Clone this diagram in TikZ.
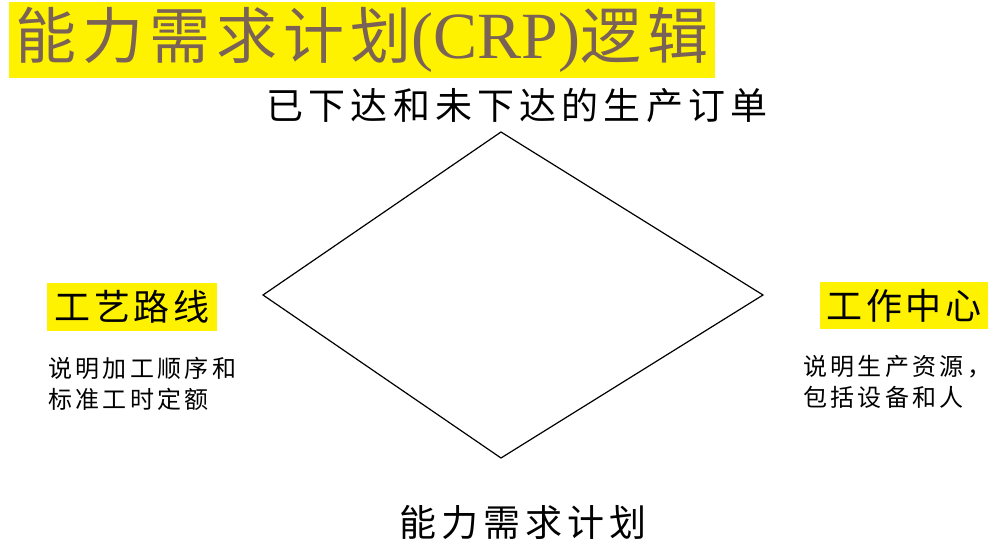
\documentclass[tikz,border=0pt]{standalone}
\usepackage{fontspec}
\setmainfont{Noto Sans CJK SC}
\newfontfamily\latinserif{Liberation Serif}
\newfontfamily\cjk[LetterSpace=10]{Noto Sans CJK SC}
\newfontfamily\cjkwide[LetterSpace=14]{Noto Sans CJK SC}
\definecolor{titlebrown}{RGB}{122,99,86}

\begin{document}
\begin{tikzpicture}[x=1pt,y=-1pt,
  tag/.style={fill=yellow, inner sep=0pt},
  note/.style={inner sep=0pt, align=left, anchor=west,
    font=\cjkwide\fontsize{24}{31}\selectfont}]
  \useasboundingbox (0,0) rectangle (1005,559);
  \node[tag, minimum width=706pt, minimum height=76pt, text=titlebrown] (title) at (362,40)
    {{\cjk\fontsize{61}{66}\selectfont 能力需求计划}{\latinserif\fontsize{66}{70}\selectfont (CRP)}{\cjk\fontsize{61}{66}\selectfont 逻辑}};
  \node[inner sep=0pt, font=\cjkwide\fontsize{37}{40}\selectfont] (orders) at (517,105) {已下达和未下达的生产订单};
  \node[inner sep=0pt, font=\cjkwide\fontsize{37}{40}\selectfont] (crp) at (523,522) {能力需求计划};
  % the four corners
  \coordinate (dtop) at (501,132);
  \coordinate (dright) at (763,295);
  \coordinate (dbottom) at (501,458);
  \coordinate (dleft) at (263,295);
  \draw[line width=1.2pt, line join=miter] (dtop) -- (dright) -- (dbottom) -- (dleft) -- cycle;
  \node[tag, minimum width=170pt, minimum height=48pt, font=\cjk\fontsize{36}{40}\selectfont] (routing) at (132,307) {工艺路线};
  \node[tag, minimum width=168pt, minimum height=47pt, font=\cjk\fontsize{36}{40}\selectfont] (center) at (904,305.5) {工作中心};
  \node[note] (routingnote) at (48,384) {说明加工顺序和\\标准工时定额};
  \node[note] (centernote) at (803,382) {说明生产资源，\\包括设备和人};
\end{tikzpicture}
\end{document}
